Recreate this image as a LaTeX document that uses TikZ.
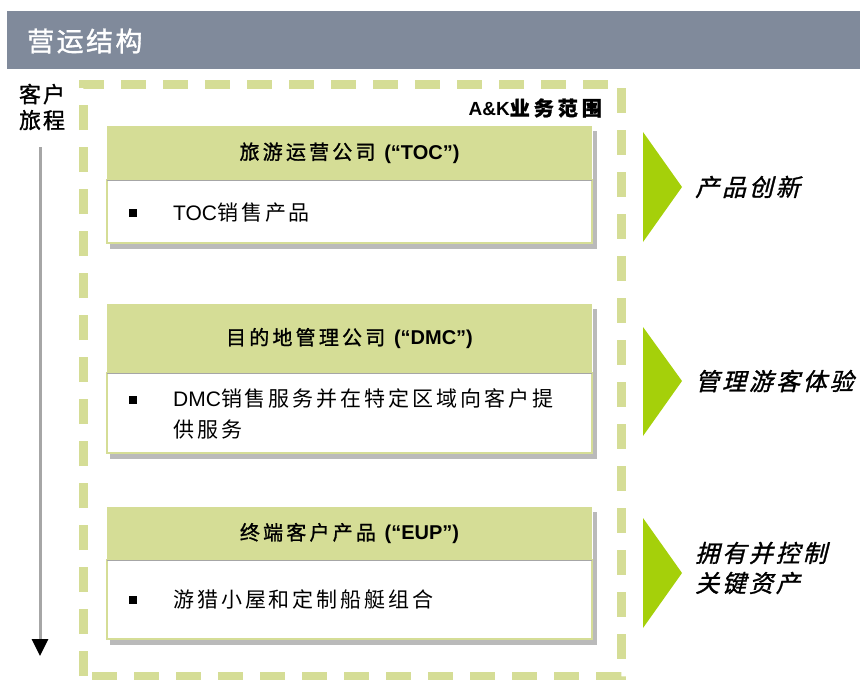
\documentclass[tikz,border=0pt]{standalone}
\usepackage{fontspec}
\setmainfont{Liberation Sans}
\newfontfamily\cjk[LetterSpace=14]{Noto Sans CJK SC}
\newfontfamily\cjkh[FakeBold=1.2,LetterSpace=16]{Noto Sans CJK SC}
\newfontfamily\cjkt[FakeBold=1.2,LetterSpace=9]{Noto Sans CJK SC}
\newfontfamily\cjkj[FakeBold=1.2,LetterSpace=9]{Noto Sans CJK SC}
\newfontfamily\cjks[FakeBold=1.2,LetterSpace=20]{Noto Sans CJK SC}
\newfontfamily\cjkit[FakeSlant=0.25,FakeBold=1.2,LetterSpace=12]{Noto Sans CJK SC}
\usetikzlibrary{arrows.meta,shadows,fit,backgrounds}
\definecolor{barGray}{RGB}{128,138,155}
\definecolor{olive}{RGB}{213,221,150}
\definecolor{chev}{RGB}{165,208,10}
\definecolor{lineGray}{RGB}{166,166,166}
\tikzset{
  hdr/.style={rectangle, fill=olive, minimum width=485pt, inner sep=0pt, font=\fontsize{20}{22}\selectfont},
  bodybox/.style={rectangle, fill=white, draw=olive, line width=1.5pt, minimum width=485pt, inner sep=0pt},
  shadowbox/.style={rectangle, inner sep=0pt, fill=white, drop shadow={shadow xshift=4pt, shadow yshift=-5pt, opacity=0.45, fill=black!60}},
  bultext/.style={anchor=west, align=left, font=\fontsize{21}{31}\selectfont, inner sep=0pt},
  bul/.style={rectangle, fill=black, minimum size=8pt, inner sep=0pt},
  outcome/.style={anchor=west, align=left, font=\cjkit\fontsize{24}{30}\selectfont, inner sep=0pt},
  chevshape/.style={fill=chev},
}
\begin{document}
\begin{tikzpicture}[x=1pt,y=-1pt]
\useasboundingbox (0,0) rectangle (860,680);
% title bar
\fill[barGray] (7,11) rectangle (860,69);
\node[anchor=west, text=white, font=\cjkt\fontsize{27}{30}\selectfont, inner sep=0pt] (title) at (27,41) {营运结构};

% dashed scope
\draw[olive, line width=9pt, dash pattern=on 25pt off 17pt] (83,676) -- (83,84) -- (621,84) -- (621,676) -- cycle;
\node[anchor=east, inner sep=0pt, font=\fontsize{19}{20}\selectfont\bfseries] (scope) at (602,108) {A\&K{\cjks\fontsize{20}{20}\selectfont 业务范围}};

% journey
\node[align=center, inner sep=0pt, font=\cjkj\fontsize{22}{26}\selectfont] (journey) at (42,107) {客户\\旅程};
\coordinate (jtop) at (40,147);
\coordinate (jend) at (40,656);
\draw[lineGray, line width=3pt, -{Triangle[width=16pt,length=17pt,color=black]}] (jtop) -- (jend);

% box 1
\node[bodybox, minimum height=63pt] (b1) at (349.5,211.5) {};
\node[hdr, minimum height=54pt] (h1) at (349.5,153) {{\cjkh 旅游运营公司} \textbf{(“TOC”)}};
\begin{scope}[on background layer]
\node[shadowbox, fit=(h1)(b1)] (s1) {};
\end{scope}
\draw[black!35, line width=1pt] (h1.south west) -- (h1.south east);
\node[bul] (p1) at (133,213) {};
\node[bultext] (t1) at (173,213) {TOC{\cjk 销售产品}};

% box 2
\node[bodybox, minimum height=80pt] (b2) at (349.5,413) {};
\node[hdr, minimum height=69pt] (h2) at (349.5,338.5) {{\cjkh 目的地管理公司} \textbf{(“DMC”)}};
\begin{scope}[on background layer]
\node[shadowbox, fit=(h2)(b2)] (s2) {};
\end{scope}
\draw[black!35, line width=1pt] (h2.south west) -- (h2.south east);
\node[bul] (p2) at (133,400) {};
\node[bultext, anchor=north west] (t2) at (173,388) {DMC{\cjk 销售服务并在特定区域向客户提}\\{\cjk 供服务}};

% box 3
\node[bodybox, minimum height=79pt] (b3) at (349.5,599.5) {};
\node[hdr, minimum height=53pt] (h3) at (349.5,533.5) {{\cjkh 终端客户产品} \textbf{(“EUP”)}};
\begin{scope}[on background layer]
\node[shadowbox, fit=(h3)(b3)] (s3) {};
\end{scope}
\draw[black!35, line width=1pt] (h3.south west) -- (h3.south east);
\node[bul] (p3) at (133,600) {};
\node[bultext] (t3) at (173,600) {\cjk 游猎小屋和定制船艇组合};

% chevrons
\fill[chevshape] (643,132) -- (682,187) -- (643,242) -- cycle;
\fill[chevshape] (643,327) -- (682,381) -- (643,436) -- cycle;
\fill[chevshape] (643,518) -- (682,573) -- (643,628) -- cycle;

\node[outcome] (o1) at (695,187) {产品创新};
\node[outcome] (o2) at (695,381) {管理游客体验};
\node[outcome] (o3) at (695,568) {拥有并控制\\关键资产};
\end{tikzpicture}
\end{document}
